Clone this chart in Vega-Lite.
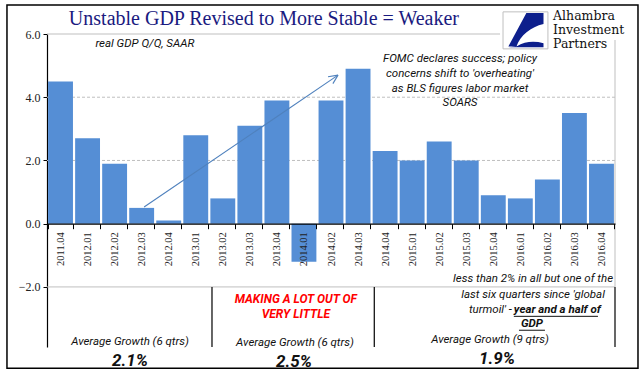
{
  "$schema": "https://vega.github.io/schema/vega-lite/v6.json",
  "width": 568,
  "height": 313,
  "autosize": {"type": "none"},
  "padding": {"left": 47, "top": 34, "right": 26, "bottom": 28},
  "background": "white",
  "config": {"view": {"stroke": null}},
  "resolve": {"scale": {"x": "independent", "y": "independent"}, "axis": {"x": "independent", "y": "independent"}},
  "layer": [
    {
      "data": {"values": [{"y": 2}, {"y": 4}]},
      "mark": {"type": "rule", "color": "#BFBFBF", "strokeDash": [3, 2], "strokeWidth": 1},
      "encoding": {"y": {"field": "y", "type": "quantitative", "scale": {"domain": [-3.9, 6], "nice": false, "zero": false}, "axis": null}}
    },
    {
      "data": {"values": [{"y": -2}]},
      "mark": {"type": "rule", "color": "#BFBFBF", "strokeWidth": 1},
      "encoding": {"y": {"field": "y", "type": "quantitative", "scale": {"domain": [-3.9, 6], "nice": false, "zero": false}, "axis": null}}
    },
    {
      "data": {"values": [{"x": 0, "x2": 16.75, "y": 6}]},
      "mark": {"type": "rule", "color": "#BFBFBF", "strokeWidth": 1},
      "encoding": {
        "x": {"field": "x", "type": "quantitative", "scale": {"domain": [0, 21], "nice": false, "zero": false}, "axis": null},
        "x2": {"field": "x2"},
        "y": {"field": "y", "type": "quantitative", "scale": {"domain": [-3.9, 6], "nice": false, "zero": false}, "axis": null}
      }
    },
    {
      "data": {"values": [{"x": 21, "y": 5.81, "y2": -2}]},
      "mark": {"type": "rule", "color": "#BFBFBF", "strokeWidth": 1},
      "encoding": {
        "x": {"field": "x", "type": "quantitative", "scale": {"domain": [0, 21], "nice": false, "zero": false}, "axis": null},
        "y": {"field": "y", "type": "quantitative", "scale": {"domain": [-3.9, 6], "nice": false, "zero": false}, "axis": null},
        "y2": {"field": "y2"}
      }
    },
    {
      "data": {"values": [
        {"q": "2011.04", "v": 4.5}, {"q": "2012.01", "v": 2.7}, {"q": "2012.02", "v": 1.9},
        {"q": "2012.03", "v": 0.5}, {"q": "2012.04", "v": 0.1}, {"q": "2013.01", "v": 2.8},
        {"q": "2013.02", "v": 0.8}, {"q": "2013.03", "v": 3.1}, {"q": "2013.04", "v": 3.9},
        {"q": "2014.01", "v": -1.2}, {"q": "2014.02", "v": 3.9}, {"q": "2014.03", "v": 4.9},
        {"q": "2014.04", "v": 2.3}, {"q": "2015.01", "v": 2.0}, {"q": "2015.02", "v": 2.6},
        {"q": "2015.03", "v": 2.0}, {"q": "2015.04", "v": 0.9}, {"q": "2016.01", "v": 0.8},
        {"q": "2016.02", "v": 1.4}, {"q": "2016.03", "v": 3.5}, {"q": "2016.04", "v": 1.9}
      ]},
      "mark": {"type": "bar", "color": "#558ED5"},
      "encoding": {
        "x": {
          "field": "q", "type": "nominal", "sort": null,
          "scale": {"paddingInner": 0.08, "paddingOuter": 0.04},
          "axis": {
            "title": null, "offset": -123.3, "zindex": 1,
            "labelAngle": -90, "labelFont": "Liberation Serif", "labelFontSize": 10.5, "labelColor": "#222222",
            "labelPadding": 3, "tickBand": "extent", "tickSize": 5, "tickColor": "black",
            "domainColor": "black", "domainWidth": 1.2, "labelOverlap": false
          }
        },
        "y": {
          "field": "v", "type": "quantitative",
          "scale": {"domain": [-3.9, 6], "nice": false, "zero": false},
          "axis": {
            "title": null, "values": [-2, 0, 2, 4, 6], "format": ".1f", "grid": false,
            "labelFont": "Liberation Serif", "labelFontSize": 12, "labelColor": "#222222",
            "tickSize": 4, "tickColor": "black", "domainColor": "black", "domainWidth": 1.2, "labelPadding": 3
          }
        }
      }
    },
    {
      "data": {"values": [
        {"x": 6.1, "y": -2, "y2": -3.9}, {"x": 12.1, "y": -2, "y2": -3.9}, {"x": 21, "y": -2, "y2": -3.9}
      ]},
      "mark": {"type": "rule", "color": "black", "strokeWidth": 1.2},
      "encoding": {
        "x": {"field": "x", "type": "quantitative", "scale": {"domain": [0, 21], "nice": false, "zero": false}, "axis": null},
        "y": {"field": "y", "type": "quantitative", "scale": {"domain": [-3.9, 6], "nice": false, "zero": false}, "axis": null},
        "y2": {"field": "y2"}
      }
    },
    {
      "data": {"values": [
        {"x": 3.59, "y": 0.53, "x2": 10.76, "y2": 4.70},
        {"x": 10.39, "y": 4.65, "x2": 10.76, "y2": 4.70},
        {"x": 10.57, "y": 4.43, "x2": 10.76, "y2": 4.70}
      ]},
      "mark": {"type": "rule", "color": "#4F81BD", "strokeWidth": 1.1},
      "encoding": {
        "x": {"field": "x", "type": "quantitative", "scale": {"domain": [0, 21], "nice": false, "zero": false}, "axis": null},
        "x2": {"field": "x2"},
        "y": {"field": "y", "type": "quantitative", "scale": {"domain": [-3.9, 6], "nice": false, "zero": false}, "axis": null},
        "y2": {"field": "y2"}
      }
    },
    {
      "data": {"values": [{"x": -1.48, "x2": 21.85, "y": 6.92, "y2": -4.57}]},
      "mark": {"type": "rect", "fill": null, "fillOpacity": 0, "stroke": "black", "strokeWidth": 1.5},
      "encoding": {
        "x": {"field": "x", "type": "quantitative", "scale": {"domain": [0, 21], "nice": false, "zero": false}, "axis": null},
        "x2": {"field": "x2"},
        "y": {"field": "y", "type": "quantitative", "scale": {"domain": [-3.9, 6], "nice": false, "zero": false}, "axis": null},
        "y2": {"field": "y2"}
      }
    },
    {
      "data": {"values": [{"x": 16.86, "x2": 18.52, "y": 6.70, "y2": 5.53}]},
      "mark": {"type": "rect", "fill": "white", "stroke": "#BFBFBF", "strokeWidth": 1},
      "encoding": {
        "x": {"field": "x", "type": "quantitative", "scale": {"domain": [0, 21], "nice": false, "zero": false}, "axis": null},
        "x2": {"field": "x2"},
        "y": {"field": "y", "type": "quantitative", "scale": {"domain": [-3.9, 6], "nice": false, "zero": false}, "axis": null},
        "y2": {"field": "y2"}
      }
    },
    {
      "data": {"values": [{"x": 17.69, "y": 6.12}]},
      "mark": {
        "type": "point", "filled": true, "color": "#0D1F8C", "opacity": 1, "size": 1300,
        "shape": "M 0.05 -0.95 L 1 -0.95 L 1 -0.35 C 0.3 -0.2 -0.3 0.3 -0.5 0.9 L -0.95 0.9 Z M -0.5 0.9 C 0 0.6 0.5 0.6 1 0.72 L 1 0.95 L -0.95 0.95 Z"
      },
      "encoding": {
        "x": {"field": "x", "type": "quantitative", "scale": {"domain": [0, 21], "nice": false, "zero": false}, "axis": null},
        "y": {"field": "y", "type": "quantitative", "scale": {"domain": [-3.9, 6], "nice": false, "zero": false}, "axis": null}
      }
    },
    {
      "data": {"values": [{"x": 8.02, "y": 6.47, "t": "Unstable GDP Revised to More Stable = Weaker"}]},
      "mark": {"type": "text", "font": "Liberation Serif", "fontSize": 20, "color": "#1A1A80", "align": "center", "baseline": "middle"},
      "encoding": {
        "x": {"field": "x", "type": "quantitative", "scale": {"domain": [0, 21], "nice": false, "zero": false}, "axis": null},
        "y": {"field": "y", "type": "quantitative", "scale": {"domain": [-3.9, 6], "nice": false, "zero": false}, "axis": null},
        "text": {"field": "t"}
      }
    },
    {
      "data": {"values": [
        {"x": 18.71, "y": 6.57, "t": "Alhambra"},
        {"x": 18.71, "y": 6.13, "t": "Investment"},
        {"x": 18.71, "y": 5.69, "t": "Partners"}
      ]},
      "mark": {"type": "text", "font": "DejaVu Serif", "fontSize": 12.5, "color": "#111111", "align": "left", "baseline": "middle"},
      "encoding": {
        "x": {"field": "x", "type": "quantitative", "scale": {"domain": [0, 21], "nice": false, "zero": false}, "axis": null},
        "y": {"field": "y", "type": "quantitative", "scale": {"domain": [-3.9, 6], "nice": false, "zero": false}, "axis": null},
        "text": {"field": "t"}
      }
    },
    {
      "data": {"values": [
        {"x": 3.62, "y": 5.68, "t": "real GDP Q/Q, SAAR"},
        {"x": 15.27, "y": 5.21, "t": "FOMC declares success; policy"},
        {"x": 15.27, "y": 4.73, "t": "concerns shift to 'overheating'"},
        {"x": 15.27, "y": 4.26, "t": "as BLS figures labor market"},
        {"x": 15.27, "y": 3.82, "t": "SOARS"},
        {"x": 17.97, "y": -1.75, "t": "less than 2% in all but one of the"},
        {"x": 17.97, "y": -2.26, "t": "last six quarters since 'global"},
        {"x": 3.07, "y": -3.75, "t": "Average Growth (6 qtrs)"},
        {"x": 9.17, "y": -3.78, "t": "Average Growth (6 qtrs)"},
        {"x": 16.38, "y": -3.68, "t": "Average Growth (9 qtrs)"}
      ]},
      "mark": {"type": "text", "font": "Roboto, sans-serif", "fontSize": 11.5, "fontStyle": "italic", "color": "#111111", "align": "center", "baseline": "middle"},
      "encoding": {
        "x": {"field": "x", "type": "quantitative", "scale": {"domain": [0, 21], "nice": false, "zero": false}, "axis": null},
        "y": {"field": "y", "type": "quantitative", "scale": {"domain": [-3.9, 6], "nice": false, "zero": false}, "axis": null},
        "text": {"field": "t"}
      }
    },
    {
      "data": {"values": [{"x": 17.19, "y": -2.73, "t": "turmoil' - "}]},
      "mark": {"type": "text", "font": "Roboto, sans-serif", "fontSize": 11.5, "fontStyle": "italic", "color": "#111111", "align": "right", "baseline": "middle"},
      "encoding": {
        "x": {"field": "x", "type": "quantitative", "scale": {"domain": [0, 21], "nice": false, "zero": false}, "axis": null},
        "y": {"field": "y", "type": "quantitative", "scale": {"domain": [-3.9, 6], "nice": false, "zero": false}, "axis": null},
        "text": {"field": "t"}
      }
    },
    {
      "data": {"values": [{"x": 17.26, "y": -2.73, "t": "year and a half of"}]},
      "mark": {"type": "text", "font": "Roboto, sans-serif", "fontSize": 11.5, "fontStyle": "italic", "fontWeight": "bold", "color": "#111111", "align": "left", "baseline": "middle"},
      "encoding": {
        "x": {"field": "x", "type": "quantitative", "scale": {"domain": [0, 21], "nice": false, "zero": false}, "axis": null},
        "y": {"field": "y", "type": "quantitative", "scale": {"domain": [-3.9, 6], "nice": false, "zero": false}, "axis": null},
        "text": {"field": "t"}
      }
    },
    {
      "data": {"values": [{"x": 17.93, "y": -3.17, "t": "GDP"}]},
      "mark": {"type": "text", "font": "Roboto, sans-serif", "fontSize": 11.5, "fontStyle": "italic", "fontWeight": "bold", "color": "#111111", "align": "center", "baseline": "middle"},
      "encoding": {
        "x": {"field": "x", "type": "quantitative", "scale": {"domain": [0, 21], "nice": false, "zero": false}, "axis": null},
        "y": {"field": "y", "type": "quantitative", "scale": {"domain": [-3.9, 6], "nice": false, "zero": false}, "axis": null},
        "text": {"field": "t"}
      }
    },
    {
      "data": {"values": [
        {"x": 17.26, "x2": 20.37, "y": -2.93},
        {"x": 17.45, "x2": 18.41, "y": -3.37}
      ]},
      "mark": {"type": "rule", "color": "#111111", "strokeWidth": 1},
      "encoding": {
        "x": {"field": "x", "type": "quantitative", "scale": {"domain": [0, 21], "nice": false, "zero": false}, "axis": null},
        "x2": {"field": "x2"},
        "y": {"field": "y", "type": "quantitative", "scale": {"domain": [-3.9, 6], "nice": false, "zero": false}, "axis": null}
      }
    },
    {
      "data": {"values": [
        {"x": 9.2, "y": -2.39, "t": "MAKING A LOT OUT OF"},
        {"x": 9.2, "y": -2.86, "t": "VERY LITTLE"}
      ]},
      "mark": {"type": "text", "font": "Roboto, sans-serif", "fontSize": 12, "fontStyle": "italic", "fontWeight": "bold", "color": "#FF0000", "align": "center", "baseline": "middle"},
      "encoding": {
        "x": {"field": "x", "type": "quantitative", "scale": {"domain": [0, 21], "nice": false, "zero": false}, "axis": null},
        "y": {"field": "y", "type": "quantitative", "scale": {"domain": [-3.9, 6], "nice": false, "zero": false}, "axis": null},
        "text": {"field": "t"}
      }
    },
    {
      "data": {"values": [
        {"x": 3.07, "y": -4.35, "t": "2.1%"},
        {"x": 9.13, "y": -4.38, "t": "2.5%"},
        {"x": 16.64, "y": -4.28, "t": "1.9%"}
      ]},
      "mark": {"type": "text", "font": "Roboto, sans-serif", "fontSize": 17, "fontStyle": "italic", "fontWeight": "bold", "color": "#111111", "align": "center", "baseline": "middle"},
      "encoding": {
        "x": {"field": "x", "type": "quantitative", "scale": {"domain": [0, 21], "nice": false, "zero": false}, "axis": null},
        "y": {"field": "y", "type": "quantitative", "scale": {"domain": [-3.9, 6], "nice": false, "zero": false}, "axis": null},
        "text": {"field": "t"}
      }
    }
  ]
}
